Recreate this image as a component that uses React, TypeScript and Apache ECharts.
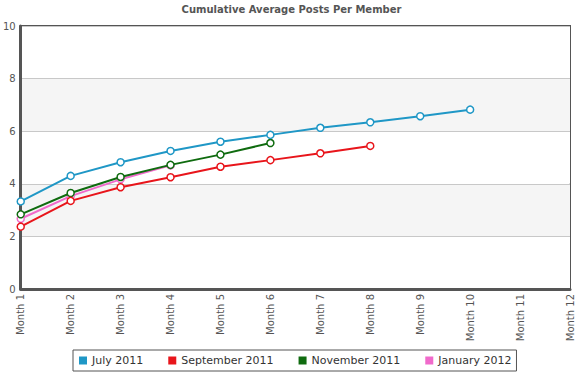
import React, { useEffect, useRef } from "react";
import * as echarts from "echarts";

const months = ["Month 1", "Month 2", "Month 3", "Month 4", "Month 5", "Month 6", "Month 7", "Month 8", "Month 9", "Month 10", "Month 11", "Month 12"];
const july2011 = [3.33, 4.3, 4.82, 5.25, 5.6, 5.86, 6.13, 6.34, 6.57, 6.82];
const sept2011 = [2.37, 3.35, 3.87, 4.25, 4.65, 4.9, 5.16, 5.44];
const nov2011 = [2.84, 3.65, 4.26, 4.72, 5.11, 5.55];
const jan2012 = [2.67, 3.53, 4.17, 4.7];
const seriesNames = ["July 2011", "September 2011", "November 2011", "January 2012"];
const seriesColors = ["#1f97c6", "#e8151b", "#0f6b0f", "#f06acb"];

export default function App() {
  const ref = useRef<HTMLDivElement>(null);
  useEffect(() => {
    if (!ref.current) return;
    const chart = echarts.init(ref.current, undefined, { renderer: "svg" });
    const font = "DejaVu Sans, Verdana, sans-serif";
    const datasets = [july2011, sept2011, nov2011, jan2012];
    chart.setOption({
      animation: false,
      title: {
        text: "Cumulative Average Posts Per Member",
        left: "center",
        top: -1,
        textStyle: { fontFamily: font, fontSize: 10, fontWeight: "bold", color: "#555" },
      },
      legend: {
        data: seriesNames.map((n, i) => ({
          name: n,
          icon: "rect",
          itemStyle: { color: seriesColors[i], borderWidth: 0 },
        })),
        bottom: 4,
        left: 73,
        itemWidth: 8,
        itemHeight: 8,
        itemGap: 25,
        borderColor: "#555",
        borderWidth: 1,
        padding: [5, 5, 5, 6],
        textStyle: { fontFamily: font, fontSize: 11, color: "#333" },
      },
      grid: {
        left: 20,
        right: 13,
        top: 26,
        bottom: 86,
        show: true,
        borderColor: "#555",
        borderWidth: 2,
        containLabel: false,
      },
      xAxis: {
        type: "category",
        data: months,
        boundaryGap: false,
        axisLine: { lineStyle: { color: "#555", width: 3 } },
        axisTick: { show: false },
        axisLabel: { rotate: 90, fontFamily: font, fontSize: 10, color: "#555", margin: 5, interval: 0 },
      },
      yAxis: {
        type: "value",
        min: 0,
        max: 10,
        interval: 2,
        axisLine: { show: true, lineStyle: { color: "#555", width: 3 } },
        axisTick: { show: false },
        axisLabel: { fontFamily: font, fontSize: 10, color: "#555", margin: 5 },
        splitLine: { lineStyle: { color: "#c8c8c8", width: 1 } },
        splitArea: { show: true, areaStyle: { color: ["#ffffff", "#f5f5f5"] } },
      },
      series: datasets.map((d, i) => ({
        name: seriesNames[i],
        type: "line",
        data: d,
        color: seriesColors[i],
        symbol: "circle",
        symbolSize: 7,
        showSymbol: true,
        lineStyle: { width: 2, color: seriesColors[i] },
        itemStyle: { color: "#fff", borderColor: seriesColors[i], borderWidth: 1.5 },
        z: 10 - i,
      })),
    });
    return () => chart.dispose();
  }, []);
  return <div ref={ref} style={{ width: 583, height: 375, position: "absolute", left: 0, top: 0 }} />;
}
